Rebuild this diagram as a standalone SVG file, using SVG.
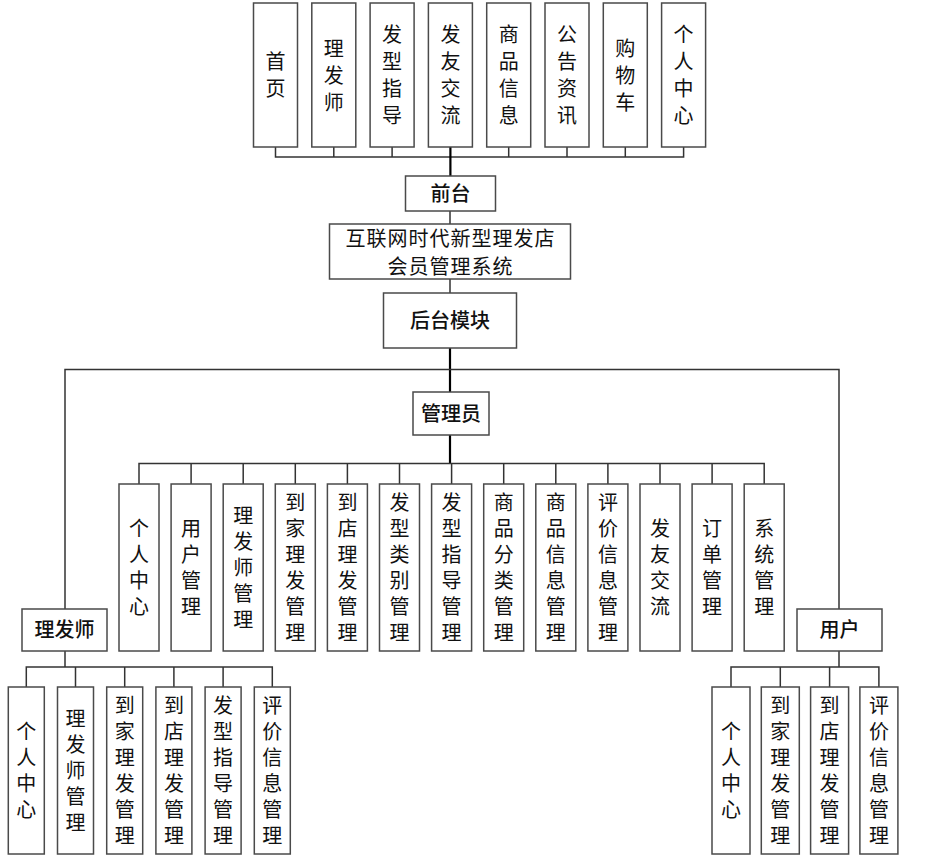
<svg xmlns="http://www.w3.org/2000/svg" width="934" height="868" viewBox="0 0 934 868">
<style>
rect{fill:#fff;stroke:#4a4a4a;stroke-width:1.5}
text{font-family:"Noto Sans CJK SC","Noto Sans",sans-serif;font-size:20px;fill:#111;text-anchor:middle}
.h{font-weight:500}
.v{writing-mode:vertical-rl;letter-spacing:6px}
.v7{writing-mode:vertical-rl;letter-spacing:7px}
.c line,.c path{stroke:#333;stroke-width:1.5;fill:none}
.c .k{stroke:#000;stroke-width:2.2}
</style>
<rect width="934" height="868" style="fill:#fff;stroke:none"/>
<g class="c" id="connectors">
<path d="M275.5 147V157H683.6V147M333.8 147V157M392.1 147V157M508.7 147V157M567 147V157M625.3 147V157"/>
<path class="k" d="M450.4 147V176"/>
<path d="M450 211V224M450 279V293"/>
<path class="k" d="M450 348V392"/>
<path d="M65 609V369.5H839V609"/>
<path class="k" d="M450 435V463.5"/>
<path d="M139 484V463.5H764.2V484M191.1 484V463.5M243.2 484V463.5M295.3 484V463.5M347.4 484V463.5M399.5 484V463.5M451.6 484V463.5M503.7 484V463.5M555.8 484V463.5M607.9 484V463.5M660 484V463.5M712.1 484V463.5"/>
<path d="M65 651V667M26.3 687V667H272.3V687M75.5 687V667M124.7 687V667M173.9 687V667M223.1 687V667"/>
<path d="M839 651V667M731 687V667H878.9V687M780.3 687V667M829.6 687V667"/>
</g>
<g id="top-nodes">
<g id="n-shouye"><rect x="253.5" y="3" width="44" height="144"/><text class="v7" x="275.5" y="78.5">首页</text></g>
<g id="n-lifashi-top"><rect x="311.8" y="3" width="44" height="144"/><text class="v7" x="333.8" y="78.5">理发师</text></g>
<g id="n-faxingzhidao-top"><rect x="370.1" y="3" width="44" height="144"/><text class="v7" x="392.1" y="78.5">发型指导</text></g>
<g id="n-fayoujiaoliu-top"><rect x="428.4" y="3" width="44" height="144"/><text class="v7" x="450.4" y="78.5">发友交流</text></g>
<g id="n-shangpin-top"><rect x="486.7" y="3" width="44" height="144"/><text class="v7" x="508.7" y="78.5">商品信息</text></g>
<g id="n-gonggao"><rect x="545" y="3" width="44" height="144"/><text class="v7" x="567" y="78.5">公告资讯</text></g>
<g id="n-gouwuche"><rect x="603.3" y="3" width="44" height="144"/><text class="v7" x="625.3" y="78.5">购物车</text></g>
<g id="n-geren-top"><rect x="661.6" y="3" width="44" height="144"/><text class="v7" x="683.6" y="78.5">个人中心</text></g>
</g>
<g id="n-qiantai"><rect x="405.5" y="176" width="90" height="35"/><text class="h" x="450.5" y="200.5">前台</text></g>
<g id="n-system"><rect x="329.5" y="224" width="241" height="55"/><text x="450.5" y="245.5" style="letter-spacing:1px">互联网时代新型理发店</text><text x="450.5" y="273.5" style="letter-spacing:1px">会员管理系统</text></g>
<g id="n-houtai"><rect x="383.5" y="293" width="133" height="55"/><text class="h" x="450" y="327.5">后台模块</text></g>
<g id="n-admin"><rect x="413" y="392" width="76" height="43"/><text class="h" x="451" y="420.5">管理员</text></g>
<g id="admin-children">
<g id="a1"><rect x="119" y="484" width="40" height="167"/><text class="v" x="139" y="570.5">个人中心</text></g>
<g id="a2"><rect x="171.1" y="484" width="40" height="167"/><text class="v" x="191.1" y="570.5">用户管理</text></g>
<g id="a3"><rect x="223.2" y="484" width="40" height="167"/><text class="v" x="243.2" y="570.5">理发师管理</text></g>
<g id="a4"><rect x="275.3" y="484" width="40" height="167"/><text class="v" x="295.3" y="570.5">到家理发管理</text></g>
<g id="a5"><rect x="327.4" y="484" width="40" height="167"/><text class="v" x="347.4" y="570.5">到店理发管理</text></g>
<g id="a6"><rect x="379.5" y="484" width="40" height="167"/><text class="v" x="399.5" y="570.5">发型类别管理</text></g>
<g id="a7"><rect x="431.6" y="484" width="40" height="167"/><text class="v" x="451.6" y="570.5">发型指导管理</text></g>
<g id="a8"><rect x="483.7" y="484" width="40" height="167"/><text class="v" x="503.7" y="570.5">商品分类管理</text></g>
<g id="a9"><rect x="535.8" y="484" width="40" height="167"/><text class="v" x="555.8" y="570.5">商品信息管理</text></g>
<g id="a10"><rect x="587.9" y="484" width="40" height="167"/><text class="v" x="607.9" y="570.5">评价信息管理</text></g>
<g id="a11"><rect x="640" y="484" width="40" height="167"/><text class="v" x="660" y="570.5">发友交流</text></g>
<g id="a12"><rect x="692.1" y="484" width="40" height="167"/><text class="v" x="712.1" y="570.5">订单管理</text></g>
<g id="a13"><rect x="744.2" y="484" width="40" height="167"/><text class="v" x="764.2" y="570.5">系统管理</text></g>
</g>
<g id="n-lifashi"><rect x="22" y="609" width="85" height="42"/><text class="h" x="64.5" y="637">理发师</text></g>
<g id="n-yonghu"><rect x="797" y="609" width="85" height="42"/><text class="h" x="839.5" y="637">用户</text></g>
<g id="barber-children">
<g id="b1"><rect x="8.3" y="687" width="36" height="167"/><text class="v" x="26.3" y="773.5">个人中心</text></g>
<g id="b2"><rect x="57.5" y="687" width="36" height="167"/><text class="v" x="75.5" y="773.5">理发师管理</text></g>
<g id="b3"><rect x="106.7" y="687" width="36" height="167"/><text class="v" x="124.7" y="773.5">到家理发管理</text></g>
<g id="b4"><rect x="155.9" y="687" width="36" height="167"/><text class="v" x="173.9" y="773.5">到店理发管理</text></g>
<g id="b5"><rect x="205.1" y="687" width="36" height="167"/><text class="v" x="223.1" y="773.5">发型指导管理</text></g>
<g id="b6"><rect x="254.3" y="687" width="36" height="167"/><text class="v" x="272.3" y="773.5">评价信息管理</text></g>
</g>
<g id="user-children">
<g id="u1"><rect x="712" y="687" width="38" height="167"/><text class="v" x="731" y="773.5">个人中心</text></g>
<g id="u2"><rect x="761.3" y="687" width="38" height="167"/><text class="v" x="780.3" y="773.5">到家理发管理</text></g>
<g id="u3"><rect x="810.6" y="687" width="38" height="167"/><text class="v" x="829.6" y="773.5">到店理发管理</text></g>
<g id="u4"><rect x="859.9" y="687" width="38" height="167"/><text class="v" x="878.9" y="773.5">评价信息管理</text></g>
</g>
</svg>
